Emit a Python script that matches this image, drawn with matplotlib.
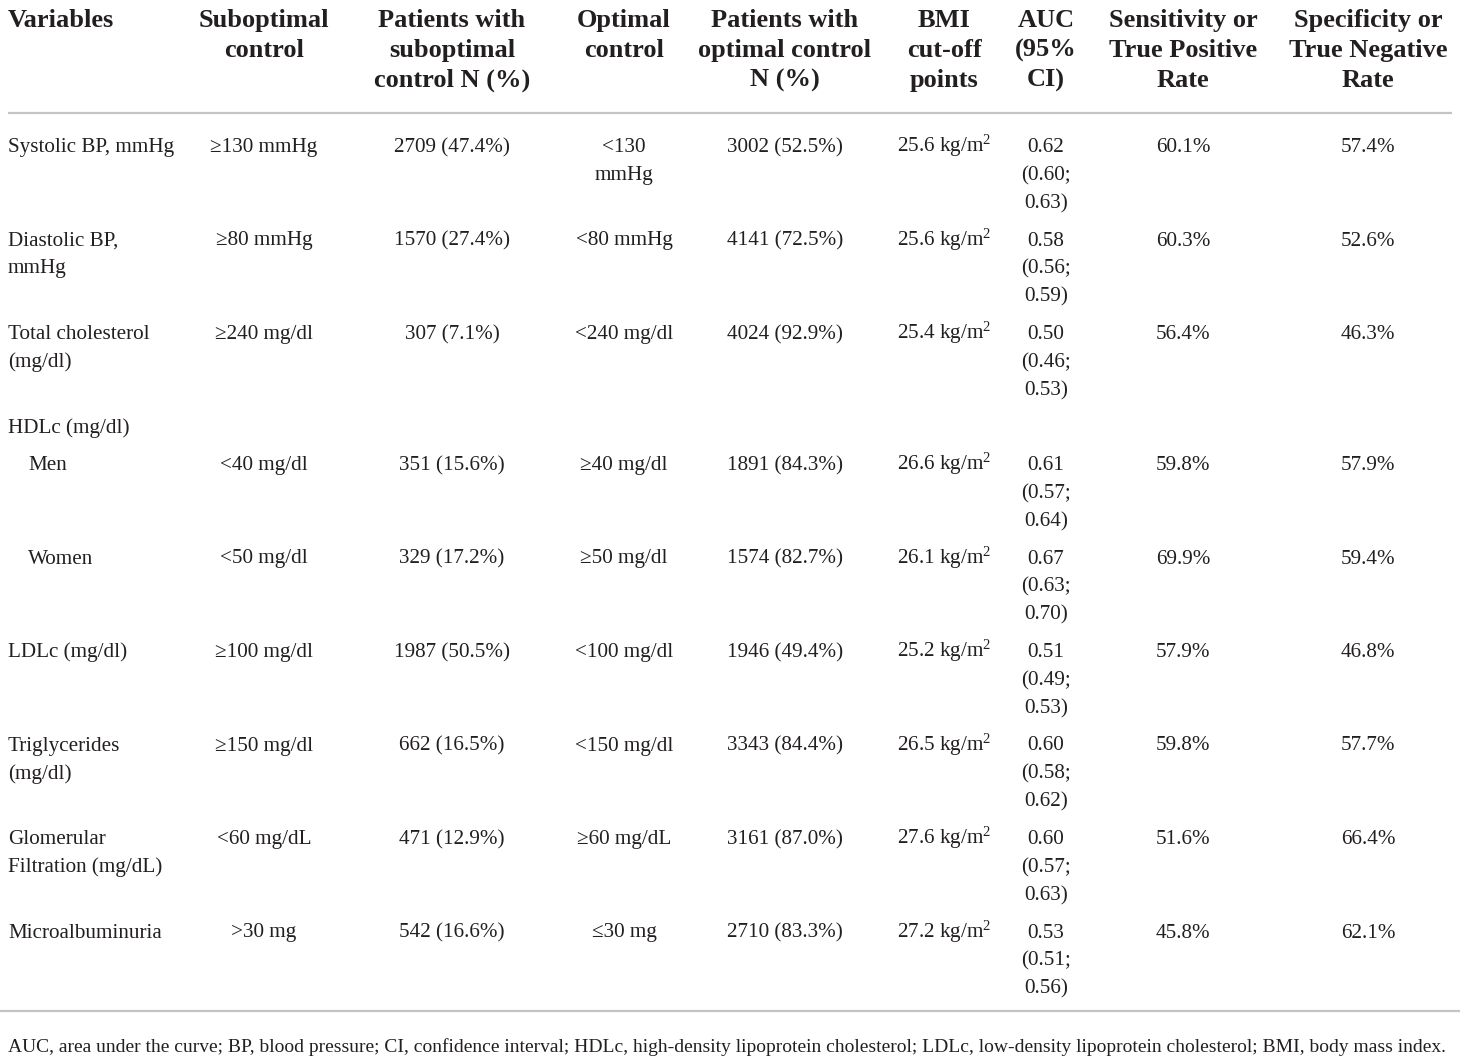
import matplotlib
matplotlib.use("Agg")
import matplotlib.pyplot as plt

# table contents
header = ["Variables", "Suboptimal\ncontrol", "Patients with\nsuboptimal\ncontrol N (%)",
          "Optimal\ncontrol", "Patients with\noptimal control\nN (%)", "BMI\ncut-off\npoints",
          "AUC\n(95%\nCI)", "Sensitivity or\nTrue Positive\nRate", "Specificity or\nTrue Negative\nRate"]

variables = ["Systolic BP, mmHg", "Diastolic BP,\nmmHg", "Total cholesterol\n(mg/dl)", "HDLc (mg/dl)",
             "Men", "Women", "LDLc (mg/dl)", "Triglycerides\n(mg/dl)",
             "Glomerular\nFiltration (mg/dL)", "Microalbuminuria"]
indented = [False, False, False, False, True, True, False, False, False, False]
suboptimal = ["≥130 mmHg", "≥80 mmHg", "≥240 mg/dl", "", "<40 mg/dl", "<50 mg/dl",
              "≥100 mg/dl", "≥150 mg/dl", "<60 mg/dL", ">30 mg"]
n_sub = [2709, 1570, 307, None, 351, 329, 1987, 662, 471, 542]
pct_sub = [47.4, 27.4, 7.1, None, 15.6, 17.2, 50.5, 16.5, 12.9, 16.6]
optimal = ["<130\nmmHg", "<80 mmHg", "<240 mg/dl", "", "≥40 mg/dl", "≥50 mg/dl",
           "<100 mg/dl", "<150 mg/dl", "≥60 mg/dL", "≤30 mg"]
n_opt = [3002, 4141, 4024, None, 1891, 1574, 1946, 3343, 3161, 2710]
pct_opt = [52.5, 72.5, 92.9, None, 84.3, 82.7, 49.4, 84.4, 87.0, 83.3]
bmi_cut = [25.6, 25.6, 25.4, None, 26.6, 26.1, 25.2, 26.5, 27.6, 27.2]
auc = [0.62, 0.58, 0.50, None, 0.61, 0.67, 0.51, 0.60, 0.60, 0.53]
auc_lo = [0.60, 0.56, 0.46, None, 0.57, 0.63, 0.49, 0.58, 0.57, 0.51]
auc_hi = [0.63, 0.59, 0.53, None, 0.64, 0.70, 0.53, 0.62, 0.63, 0.56]
sens = [60.1, 60.3, 56.4, None, 59.8, 69.9, 57.9, 59.8, 51.6, 45.8]
spec = [57.4, 52.6, 46.3, None, 57.9, 59.4, 46.8, 57.7, 66.4, 62.1]

footnote = ("AUC, area under the curve; BP, blood pressure; CI, confidence interval; "
            "HDLc, high-density lipoprotein cholesterol; LDLc, low-density lipoprotein "
            "cholesterol; BMI, body mass index.")


def np_cell(n, p):
    return "" if n is None else f"{n} ({p:.1f}%)"


rows = []
for i in range(len(variables)):
    rows.append([
        variables[i], suboptimal[i], np_cell(n_sub[i], pct_sub[i]), optimal[i],
        np_cell(n_opt[i], pct_opt[i]),
        "" if bmi_cut[i] is None else f"{bmi_cut[i]:.1f} kg/m$^2$",
        "" if auc[i] is None else f"{auc[i]:.2f}\n({auc_lo[i]:.2f};\n{auc_hi[i]:.2f})",
        "" if sens[i] is None else f"{sens[i]:.1f}%",
        "" if spec[i] is None else f"{spec[i]:.1f}%",
    ])

# layout (pixel coordinates)
col_x = [8, 264, 452, 624, 785, 944, 1046, 1183, 1368]
ink = "#231f20"
rule = "#c4c4c4"
line_h = 28
head_line_h = 30

plt.rcParams["font.family"] = ["Liberation Serif", "DejaVu Serif"]
plt.rcParams["mathtext.fontset"] = "custom"
plt.rcParams["mathtext.rm"] = "Liberation Serif"
plt.rcParams["mathtext.it"] = "Liberation Serif:italic"
plt.rcParams["mathtext.bf"] = "Liberation Serif:bold"

fig = plt.figure(figsize=(14.6, 10.64), dpi=100)
ax = fig.add_axes([0, 0, 1, 1])
ax.set_xlim(0, 1460)
ax.set_ylim(1064, 0)
ax.axis("off")

# header
for j, h in enumerate(header):
    for k, part in enumerate(h.split("\n")):
        ax.text(col_x[j], 27 + k * head_line_h, part, ha="left" if j == 0 else "center",
                va="baseline", fontsize=19, fontweight="bold", color=ink)

ax.plot([8, 1452], [113, 113], color=rule, lw=1.6, solid_capstyle="butt")

# body
y = 152
for i, row in enumerate(rows):
    n_lines = max(len(c.split("\n")) for c in row)
    for j, cell in enumerate(row):
        x = col_x[j] + (20 if (j == 0 and indented[i]) else 0)
        for k, part in enumerate(cell.split("\n")):
            ax.text(x, y + k * line_h, part, ha="left" if j == 0 else "center",
                    va="baseline", fontsize=15.2, color=ink)
    y += (n_lines - 1) * line_h + 37.5

ax.plot([0, 1460], [1011, 1011], color=rule, lw=1.6, solid_capstyle="butt")
ax.text(8, 1052, footnote, ha="left", va="baseline", fontsize=14.0, color=ink)

fig.savefig("out.png", dpi=100)
